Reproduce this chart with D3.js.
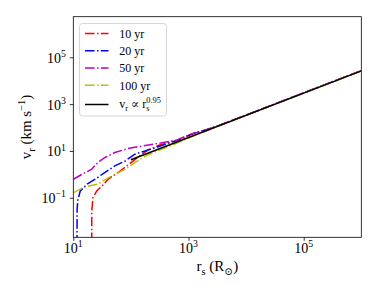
<!DOCTYPE html>
<html><head><meta charset="utf-8">
<script src="https://cdn.jsdelivr.net/npm/d3@7"></script>
<style>body{margin:0;background:#fff}svg{display:block}</style>
</head><body>
<svg id="c" width="390" height="293"></svg>
<script>
// ---- data ----
const xTicks = [1e1, 1e3, 1e5];
const xTickExp = ["1", "3", "5"];
const yTicks = [1e-1, 1e1, 1e3, 1e5];
const yTickExp = ["\u22121", "1", "3", "5"];
const seriesNames = ["10 yr", "20 yr", "50 yr", "100 yr"];
const seriesColors = ["#ff0000", "#0000ff", "#bf00bf", "#bfbf00"];

const r10 = [20.9, 20.9, 21.9, 25.7, 31.6, 40.7, 60.3, 89.1, 135, 200, 316, 631, 1175, 1995, 3162, 1e4, 1e5, 1e6];
const v10 = [0.00126, 0.025, 0.1, 0.2, 0.316, 0.63, 1.2, 2.51, 5.62, 11.2, 17.8, 28.2, 52.5, 79.4, 115, 339, 3020, 26900];

const r20 = [11.6, 11.64, 12.0, 13.2, 17.4, 24.0, 31.6, 35.5, 52.5, 79.4, 117.5, 178, 316, 631, 1175, 1995, 3162, 1e4, 1e5, 1e6];
const v20 = [0.001, 0.0316, 0.0794, 0.195, 0.38, 0.617, 1.0, 1.2, 2.29, 3.72, 7.24, 10, 15.8, 28.2, 55, 79.4, 115, 339, 3020, 26900];

const r50 = [10, 14.1, 20.9, 24.0, 28.8, 35.5, 52.5, 89.1, 155, 316, 631, 1175, 1995, 3162, 1e4, 1e5, 1e6];
const v50 = [0.617, 1.0, 1.66, 2.45, 3.7, 5.25, 8.51, 12.6, 16.2, 21.4, 29.5, 55, 79.4, 115, 339, 3020, 26900];

const r100 = [10, 14.1, 18.6, 26.9, 31.6, 46.8, 79.4, 117.5, 178, 251, 468, 1000, 3162, 1e4, 1e5, 1e6];
const v100 = [0.166, 0.25, 0.316, 0.38, 0.5, 0.851, 1.66, 3.16, 6.03, 8.71, 15.8, 35.5, 110, 331, 2950, 26300];

const rFit = [100, 1e6];
const vFit = [4.17, 26300];

const rSeries = [r10, r20, r50, r100];
const vSeries = [v10, v20, v50, v100];

// ---- layout ----
const L = 73.3, R = 361.3, T = 16.7, B = 237.3;
const FONT = "'Liberation Serif','DejaVu Serif',serif";
const svg = d3.select("#c");
const x = d3.scaleLog().domain([10, 1e6]).range([L, R]);
const y = d3.scaleLog().domain([Math.pow(10, -2.69), Math.pow(10, 6.735)]).range([B, T]);

function rich(sel, parts, size) {
  let cur = 0;
  parts.forEach(p => {
    let target = 0, fs = size;
    if (p.sub) { target = 0.28 * size; fs = 0.7 * size; }
    if (p.sup) { target = -0.42 * size; fs = 0.7 * size; }
    const ts = sel.append("tspan").attr("dy", target - cur).attr("font-size", fs).text(p.t);
    if (p.dx) ts.attr("dx", p.dx);
    cur = target;
  });
  return sel;
}

svg.append("defs").append("clipPath").attr("id", "clip")
  .append("rect").attr("x", L).attr("y", T).attr("width", R - L).attr("height", B - T);

const line = d3.line().x(d => x(d[0])).y(d => y(d[1]));
const g = svg.append("g").attr("clip-path", "url(#clip)");
rSeries.forEach((rs, i) => {
  g.append("path").datum(rs.map((r, k) => [r, vSeries[i][k]]))
    .attr("d", line).attr("fill", "none").attr("stroke", seriesColors[i])
    .attr("stroke-width", 1.5).attr("stroke-dasharray", "9.6,2.4,1.5,2.4");
});
g.append("path").datum(rFit.map((r, k) => [r, vFit[k]]))
  .attr("d", line).attr("fill", "none").attr("stroke", "#000").attr("stroke-width", 1.5);

// axes
const xAxis = svg.append("g").attr("transform", `translate(0,${B})`)
  .call(d3.axisBottom(x).tickValues(xTicks).tickSize(3.5).tickFormat(""));
const yAxis = svg.append("g").attr("transform", `translate(${L},0)`)
  .call(d3.axisLeft(y).tickValues(yTicks).tickSize(3.5).tickFormat(""));
[xAxis, yAxis].forEach(a => { a.select(".domain").remove(); a.selectAll("line").attr("stroke", "#000").attr("stroke-width", 0.8); });
svg.append("rect").attr("x", L).attr("y", T).attr("width", R - L).attr("height", B - T)
  .attr("fill", "none").attr("stroke", "#000").attr("stroke-width", 0.8);

xTicks.forEach((v, i) => {
  const t = svg.append("text").attr("x", x(v)).attr("y", 253).attr("text-anchor", "middle")
    .attr("font-family", FONT).attr("font-size", 14).attr("fill", "#000");
  rich(t, [{t: "10"}, {t: xTickExp[i], sup: true}], 14);
});
yTicks.forEach((v, i) => {
  const t = svg.append("text").attr("x", 66).attr("y", y(v) + 5.5).attr("text-anchor", "end")
    .attr("font-family", FONT).attr("font-size", 14).attr("fill", "#000");
  rich(t, [{t: "10"}, {t: yTickExp[i], sup: true}], 14);
});

// axis labels
const xl = svg.append("text").attr("x", (L + R) / 2).attr("y", 271).attr("text-anchor", "middle")
  .attr("font-family", FONT).attr("font-size", 15).attr("fill", "#000");
rich(xl, [{t: "r"}, {t: "s", sub: true}, {t: " (R"}, {t: "\u2299", sub: true}, {t: ")"}], 15);
const yl = svg.append("text").attr("transform", `translate(31,${(T + B) / 2}) rotate(-90)`)
  .attr("text-anchor", "middle").attr("font-family", FONT).attr("font-size", 15).attr("fill", "#000");
rich(yl, [{t: "v"}, {t: "r", sub: true}, {t: " (km s"}, {t: "\u22121", sup: true}, {t: ")"}], 15);

// legend
svg.append("rect").attr("x", 79.5).attr("y", 23.5).attr("width", 87).attr("height", 92.5).attr("rx", 3)
  .attr("fill", "#fff").attr("fill-opacity", 0.8).attr("stroke", "#ccc").attr("stroke-width", 0.8);
const rows = [33.5, 50.8, 68, 85.3, 104.5];
seriesNames.forEach((n, i) => {
  svg.append("line").attr("x1", 85).attr("x2", 108.5).attr("y1", rows[i]).attr("y2", rows[i])
    .attr("stroke", seriesColors[i]).attr("stroke-width", 1.5).attr("stroke-dasharray", "9.6,2.4,1.5,2.4");
  svg.append("text").attr("x", 119.3).attr("y", rows[i] + 4.2).attr("font-family", FONT)
    .attr("font-size", 12).attr("fill", "#000").text(n);
});
svg.append("line").attr("x1", 85).attr("x2", 108.5).attr("y1", rows[4]).attr("y2", rows[4])
  .attr("stroke", "#000").attr("stroke-width", 1.5);
const lt = svg.append("text").attr("x", 119.3).attr("y", rows[4] + 3.5).attr("font-family", FONT)
  .attr("font-size", 12).attr("fill", "#000");
rich(lt, [{t: "v"}, {t: "r", sub: true}, {t: " \u221D r"}, {t: "s", sub: true}, {t: "0.95", sup: true, dx: -3.3}], 12);
</script>
</body></html>
